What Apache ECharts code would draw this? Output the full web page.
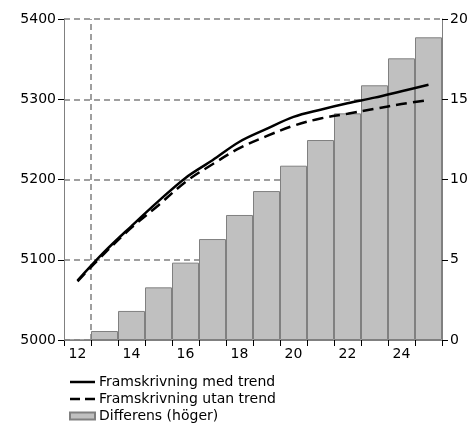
<!DOCTYPE html>
<html>
<head>
<meta charset="utf-8">
<script src="https://cdn.jsdelivr.net/npm/echarts@6/dist/echarts.min.js"></script>
<style>
html,body{margin:0;padding:0;background:#fff;}
#chart{width:472px;height:425px;}
</style>
</head>
<body>
<div id="chart"></div>
<script>
var categories = ['12','13','14','15','16','17','18','19','20','21','22','23','24','25'];
var medTrend = [5074, 5110, 5142, 5173, 5202, 5224, 5247, 5263, 5278, 5287, 5295, 5302, 5310, 5318];
var utanTrend = [5073, 5108, 5140, 5168, 5197, 5219, 5239, 5254, 5267, 5276, 5282, 5288, 5294, 5299];
var differens = [0, 0.56, 1.81, 3.28, 4.82, 6.29, 7.79, 9.28, 10.86, 12.46, 14.12, 15.87, 17.55, 18.86];
var forecastStart = 12.5;
var names = ['Framskrivning med trend', 'Framskrivning utan trend', 'Differens (höger)'];

var font = 'DejaVu Sans, Verdana, sans-serif';
var gray = '#808080';
var chart = echarts.init(document.getElementById('chart'), null, {renderer: 'canvas'});
chart.setOption({
  animation: false,
  textStyle: {fontFamily: font, color: '#000'},
  grid: {left: 64, right: 30, top: 19, bottom: 85, containLabel: false},
  legend: {
    data: [
      {name: names[0], icon: 'path://M0,0H25V2.5H0Z', itemStyle: {color: '#000', borderWidth: 0}},
      {name: names[1], icon: 'path://M0,0H10V2.5H0ZM15,0H25V2.5H15Z', itemStyle: {color: '#000', borderWidth: 0}},
      {name: names[2], icon: 'rect'}
    ],
    orient: 'vertical',
    left: 69,
    top: 375,
    itemWidth: 25,
    itemHeight: 7,
    itemGap: 3,
    symbolKeepAspect: true,
    textStyle: {fontFamily: font, fontSize: 14, color: '#000', padding: [0,0,0,-1]},
    padding: 0
  },
  xAxis: [{
    type: 'category',
    data: categories,
    boundaryGap: true,
    axisLine: {lineStyle: {color: gray, width: 1}},
    axisTick: {show: true, interval: 0, length: 6, lineStyle: {color: '#000'}},
    axisLabel: {interval: 1, color: '#000', fontSize: 14, fontFamily: font, margin: 7},
    splitLine: {show: false}
  }, {
    type: 'value', min: 11.5, max: 25.5, show: false
  }],
  yAxis: [{
    type: 'value', min: 5000, max: 5400, interval: 100,
    axisLine: {show: true, lineStyle: {color: gray}},
    axisTick: {show: true, length: 6, lineStyle: {color: '#000'}},
    axisLabel: {color: '#000', fontSize: 14, fontFamily: font, margin: 8, formatter: function (v) { return String(v); }},
    splitLine: {show: true, lineStyle: {color: gray, type: [6, 4], width: 1.5}}
  }, {
    type: 'value', min: 0, max: 20, interval: 5, position: 'right',
    axisLine: {show: true, lineStyle: {color: gray}},
    axisTick: {show: true, length: 6, lineStyle: {color: '#000'}},
    axisLabel: {color: '#000', fontSize: 14, fontFamily: font, margin: 8, formatter: function (v) { return String(v); }},
    splitLine: {show: false}
  }],
  series: [{
    name: names[2],
    type: 'bar',
    yAxisIndex: 1,
    data: differens,
    barCategoryGap: '0%',
    itemStyle: {color: '#c0c0c0', borderColor: gray, borderWidth: 1},
    z: 1
  }, {
    name: names[0],
    type: 'line',
    data: medTrend,
    symbol: 'none',
    smooth: 0.35,
    lineStyle: {color: '#000', width: 2.5},
    itemStyle: {color: '#000'},
    z: 5
  }, {
    name: names[1],
    type: 'line',
    data: utanTrend,
    symbol: 'none',
    smooth: 0.35,
    lineStyle: {color: '#000', width: 2.5, type: [11, 6]},
    itemStyle: {color: '#000'},
    z: 5
  }, {
    name: 'marker',
    type: 'line',
    xAxisIndex: 1,
    data: [],
    symbol: 'none',
    silent: true,
    markLine: {
      silent: true,
      symbol: ['none', 'none'],
      label: {show: false},
      lineStyle: {color: gray, type: [6, 4], width: 1.5},
      data: [{xAxis: forecastStart}]
    },
    z: 0
  }]
});
</script>
</body>
</html>
